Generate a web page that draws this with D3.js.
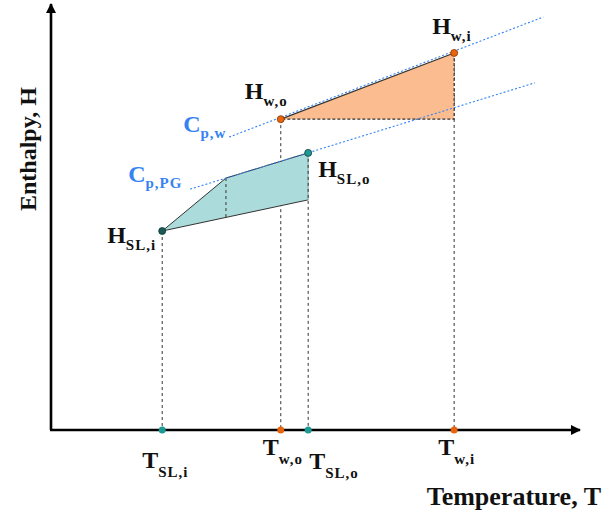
<!DOCTYPE html>
<html><head><meta charset="utf-8">
<script src="https://cdn.jsdelivr.net/npm/d3@7"></script>
<style>body{margin:0;background:#fff}text{font-family:"Liberation Serif","Times New Roman",serif;font-weight:bold}</style>
</head><body><svg id="c" width="614" height="518"></svg>
<script>
// ---- data (temperature T and enthalpy H in arbitrary units) ----
const tempNames  = ["SL,i", "w,o", "SL,o", "w,i"];
const tempValues = [21.1, 43.6, 48.8, 76.5];
const tempKinds  = ["sl", "w", "sl", "w"];

const waterT = [43.6, 76.5, 76.5];          // H_w,o -> H_w,i -> corner
const waterH = [72.8, 88.3, 72.8];

const slT = [21.1, 33.2, 48.8, 48.8];       // H_SL,i -> kink -> H_SL,o -> lower corner
const slH = [46.6, 59.0, 64.9, 53.9];

const cpWT  = [33.8, 93.4], cpWH  = [68.6, 96.7];
const cpPGT = [26.4, 91.8], cpPGH = [56.4, 81.3];

const pointNames = ["w,i", "w,o", "SL,o", "SL,i"];
const pointT = [76.5, 43.6, 48.8, 21.1];
const pointH = [88.3, 72.8, 64.9, 46.6];
const pointKinds = ["w", "w", "sl", "sl"];

// ---- drawing ----
const svg = d3.select("#c");
const x = d3.scaleLinear([0, 100], [51, 578]);
const y = d3.scaleLinear([0, 100], [430, 3]);
const ORANGE = "#e8650e", TEAL = "#1c9a95", BLUE = "#3583f2";

const defs = svg.append("defs");
defs.append("marker").attr("id", "arr").attr("viewBox", "0 0 10 10")
  .attr("refX", 9).attr("refY", 5).attr("markerWidth", 4).attr("markerHeight", 4)
  .attr("orient", "auto").attr("markerUnits", "strokeWidth")
  .append("path").attr("d", "M0,0L10,5L0,10z").attr("fill", "#000");

const line = d3.line();

// vertical dashed guides from point to axis
const guides = [[21.1, 46.6], [43.6, 72.8], [48.8, 64.9], [76.5, 88.3]];
svg.append("g").selectAll("line").data(guides).join("line")
  .attr("x1", d => x(d[0])).attr("x2", d => x(d[0]))
  .attr("y1", d => y(d[1])).attr("y2", y(0))
  .attr("stroke", "#333").attr("stroke-width", 1).attr("stroke-dasharray", "3,3");

// polygons
svg.append("path").attr("d", line(slT.map((t, i) => [x(t), y(slH[i])])) + "Z")
  .attr("fill", "#abdcdb").attr("stroke", "#333").attr("stroke-width", 1);
svg.append("path").attr("d", line(waterT.map((t, i) => [x(t), y(waterH[i])])) + "Z")
  .attr("fill", "#fbbd8f").attr("stroke", "none");
// dashed edges of the water triangle
svg.append("path").attr("d", line([[x(waterT[1]), y(waterH[1])], [x(waterT[2]), y(waterH[2])], [x(waterT[0]), y(waterH[0])]]))
  .attr("fill", "none").attr("stroke", "#333").attr("stroke-width", 1.2).attr("stroke-dasharray", "3,2");
svg.append("path").attr("d", line([[x(waterT[0]), y(waterH[0])], [x(waterT[1]), y(waterH[1])]]))
  .attr("fill", "none").attr("stroke", "#333").attr("stroke-width", 1.2);
// inner dashed line of the SL polygon
const slLowAt = t => slH[0] + (slH[3] - slH[0]) * (t - slT[0]) / (slT[3] - slT[0]);
svg.append("line").attr("x1", x(slT[1])).attr("x2", x(slT[1]))
  .attr("y1", y(slH[1])).attr("y2", y(slLowAt(slT[1])))
  .attr("stroke", "#333").attr("stroke-dasharray", "3,3");
svg.append("line").attr("x1", x(slT[2])).attr("x2", x(slT[3]))
  .attr("y1", y(slH[2])).attr("y2", y(slH[3]))
  .attr("stroke", "#abdcdb").attr("stroke-width", 1.5);
svg.append("line").attr("x1", x(slT[2])).attr("x2", x(slT[3]))
  .attr("y1", y(slH[2])).attr("y2", y(slH[3]))
  .attr("stroke", "#333").attr("stroke-dasharray", "3,3");

// Cp dotted lines
[[cpWT, cpWH], [cpPGT, cpPGH]].forEach(([ts, hs]) => {
  svg.append("path").attr("d", line(ts.map((t, i) => [x(t), y(hs[i])])))
    .attr("fill", "none").attr("stroke", BLUE).attr("stroke-width", 1.1).attr("stroke-dasharray", "2,2");
});

// axes
svg.append("line").attr("x1", x(0)).attr("y1", y(0)).attr("x2", x(0)).attr("y2", y(100) + 1)
  .attr("stroke", "#000").attr("stroke-width", 2.6).attr("marker-end", "url(#arr)");
svg.append("line").attr("x1", x(0) - 1).attr("y1", y(0)).attr("x2", x(100) + 2).attr("y2", y(0))
  .attr("stroke", "#000").attr("stroke-width", 2.6).attr("marker-end", "url(#arr)");

// axis dots
svg.append("g").selectAll("circle").data(tempValues).join("circle")
  .attr("cx", d => x(d)).attr("cy", y(0)).attr("r", 3.5)
  .attr("fill", (d, i) => tempKinds[i] === "w" ? ORANGE : TEAL);

// point dots
svg.append("g").selectAll("circle").data(pointT).join("circle")
  .attr("cx", d => x(d)).attr("cy", (d, i) => y(pointH[i])).attr("r", 3.5)
  .attr("fill", (d, i) => pointKinds[i] === "w" ? ORANGE : (i === 3 ? "#1d5955" : TEAL))
  .attr("stroke", (d, i) => pointKinds[i] === "w" ? "#8a3500" : "#0d3b39").attr("stroke-width", 0.8);

// labels
function label(main, sub, px, py, color, dy) {
  const t = svg.append("text").attr("x", px).attr("y", py).attr("fill", color).attr("font-size", 24);
  t.append("tspan").text(main);
  t.append("tspan").text(sub).attr("font-size", 15).attr("dy", dy).attr("letter-spacing", 1);
}
const pOff = [[-22, -19], [-36, -20], [10, 24], [-55, 12]];
pointNames.forEach((n, i) => label("H", n, x(pointT[i]) + pOff[i][0], y(pointH[i]) + pOff[i][1], "#111", 7));
const tOff = [[-20, 468], [-18, 455], [1, 469], [-16, 455]];
tempNames.forEach((n, i) => label("T", n, x(tempValues[i]) + tOff[i][0], tOff[i][1], "#111", 9));
label("C", "p,w", x(cpWT[0]) - 46, y(cpWH[0]) - 5, BLUE, 6);
label("C", "p,PG", x(cpPGT[0]) - 62, y(cpPGH[0]) - 7, BLUE, 6);

svg.append("text").attr("transform", "translate(36,149) rotate(-90)")
  .attr("text-anchor", "middle").attr("font-size", 24).attr("fill", "#111").text("Enthalpy, H");
svg.append("text").attr("x", 601).attr("y", 505).attr("text-anchor", "end")
  .attr("font-size", 26).attr("fill", "#111").text("Temperature, T");
</script></body></html>
